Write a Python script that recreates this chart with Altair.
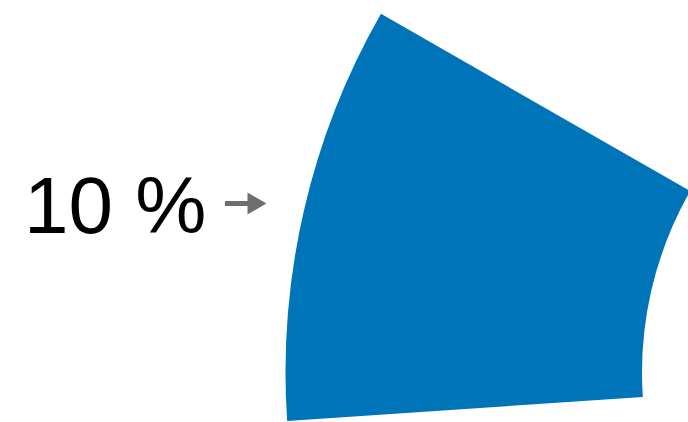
import math
import altair as alt
import pandas as pd

# Visible slice of the donut (percent of full circle, clockwise from 12 o'clock)
slice_names = ["Segment"]
slice_start = [73.93]
slice_end = [83.28]

# Annotation
label_text = ["10 %"]

arc_df = pd.DataFrame({"name": slice_names, "start": slice_start, "end": slice_end})
lab_df = pd.DataFrame({"label": label_text})

BLUE = "#0074B8"
GREY = "#6E6E6E"

arc = alt.Chart(arc_df).mark_arc(
    innerRadius=365, outerRadius=721.5, color=BLUE, stroke=None
).encode(
    theta=alt.Theta("start:Q", scale=alt.Scale(domain=[0, 100], range=[0, 2 * math.pi])),
    theta2="end:Q",
    x=alt.value(1007),
    y=alt.value(372.5),
)

text = alt.Chart(lab_df).mark_text(
    font="Liberation Sans", fontSize=80, align="left", baseline="alphabetic", color="#000000"
).encode(text="label:N", x=alt.value(24), y=alt.value(233))

shaft = alt.Chart(lab_df).mark_rule(color=GREY, strokeWidth=5).encode(
    x=alt.value(225), x2=alt.value(250), y=alt.value(203.5)
)

head = alt.Chart(lab_df).mark_point(
    shape="triangle-right", filled=True, color=GREY, opacity=1, size=480
).encode(x=alt.value(257), y=alt.value(203.5))

chart = alt.layer(arc, shaft, head, text).properties(
    width=688, height=422, padding=0, autosize=alt.AutoSizeParams(type="none")
).configure_view(stroke=None)

chart.save("out.html", embed_options={"renderer": "svg", "actions": False})
